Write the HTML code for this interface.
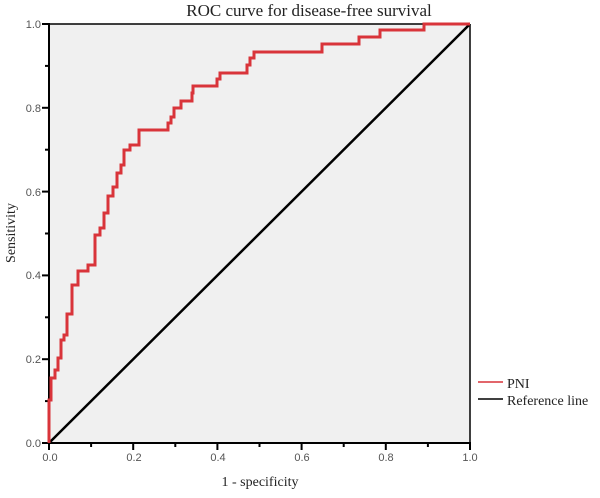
<!DOCTYPE html>
<html><head><style>
body{margin:0;background:#fff;width:600px;height:493px;overflow:hidden}
</style></head><body>
<svg width="600" height="493" xmlns="http://www.w3.org/2000/svg">
<rect x="49" y="24" width="421" height="419" fill="#f0f0f0"/>
<text x="309" y="16" text-anchor="middle" font-family="Liberation Serif, serif" font-size="17" fill="#222">ROC curve for disease-free survival</text>
<g stroke="#000" stroke-width="2">
<line x1="49" y1="24" x2="470" y2="24" stroke-width="1.5"/>
<line x1="470" y1="24" x2="470" y2="443" stroke-width="1.5"/>
<line x1="49" y1="23" x2="49" y2="444"/>
<line x1="48" y1="443" x2="471" y2="443"/>
<line x1="42" y1="443" x2="49" y2="443"/><line x1="42" y1="359.2" x2="49" y2="359.2"/><line x1="42" y1="275.4" x2="49" y2="275.4"/><line x1="42" y1="191.6" x2="49" y2="191.6"/><line x1="42" y1="107.8" x2="49" y2="107.8"/><line x1="42" y1="24" x2="49" y2="24"/>
<line x1="45" y1="401.1" x2="49" y2="401.1"/><line x1="45" y1="317.3" x2="49" y2="317.3"/><line x1="45" y1="233.5" x2="49" y2="233.5"/><line x1="45" y1="149.7" x2="49" y2="149.7"/><line x1="45" y1="65.9" x2="49" y2="65.9"/>
<line x1="49" y1="443" x2="49" y2="450"/><line x1="133.2" y1="443" x2="133.2" y2="450"/><line x1="217.4" y1="443" x2="217.4" y2="450"/><line x1="301.6" y1="443" x2="301.6" y2="450"/><line x1="385.8" y1="443" x2="385.8" y2="450"/><line x1="470" y1="443" x2="470" y2="450"/>
<line x1="91.1" y1="443" x2="91.1" y2="447"/><line x1="175.3" y1="443" x2="175.3" y2="447"/><line x1="259.5" y1="443" x2="259.5" y2="447"/><line x1="343.7" y1="443" x2="343.7" y2="447"/><line x1="427.9" y1="443" x2="427.9" y2="447"/>
</g>
<g font-family="Liberation Sans, sans-serif" font-size="11" fill="#555" text-anchor="end">
<text x="41" y="447">0.0</text><text x="41" y="363">0.2</text><text x="41" y="279">0.4</text><text x="41" y="196">0.6</text><text x="41" y="112">0.8</text><text x="41" y="28">1.0</text>
</g>
<g font-family="Liberation Sans, sans-serif" font-size="11" fill="#555" text-anchor="middle">
<text x="50" y="461">0.0</text><text x="134" y="461">0.2</text><text x="218" y="461">0.4</text><text x="302" y="461">0.6</text><text x="386" y="461">0.8</text><text x="470" y="461">1.0</text>
</g>
<text x="260" y="486" text-anchor="middle" font-family="Liberation Serif, serif" font-size="14" fill="#222">1 - specificity</text>
<text transform="translate(15,233) rotate(-90)" text-anchor="middle" font-family="Liberation Serif, serif" font-size="14" fill="#222">Sensitivity</text>
<line x1="49" y1="443" x2="470" y2="24" stroke="#000" stroke-width="2.5"/>
<path fill="none" stroke="#d9343a" stroke-width="3" d="M49,443 V400 H51 V378 H55 V370 H58 V358 H61 V340 H64 V335 H67 V314 H72 V285 H78 V271 H88 V265 H95 V235 H100 V228 H104 V213 H108 V196 H113 V187 H117 V173 H121 V165 H124 V150 H130 V145 H139 V130 H168 V123 H171 V117 H174 V108 H181 V101 H192 V93 H193 V86 H217 V79 H220 V73 H247 V65 H250 V58 H254 V52 H322 V44 H359 V37 H380 V30 H424 V24 H470"/>
<line x1="478" y1="382" x2="503" y2="382" stroke="#d9343a" stroke-width="1.5"/>
<line x1="478" y1="399" x2="503" y2="399" stroke="#000" stroke-width="1.5"/>
<text x="507" y="388" font-family="Liberation Serif, serif" font-size="14" fill="#222">PNI</text>
<text x="507" y="405" font-family="Liberation Serif, serif" font-size="14" fill="#222">Reference line</text>
</svg>
</body></html>
